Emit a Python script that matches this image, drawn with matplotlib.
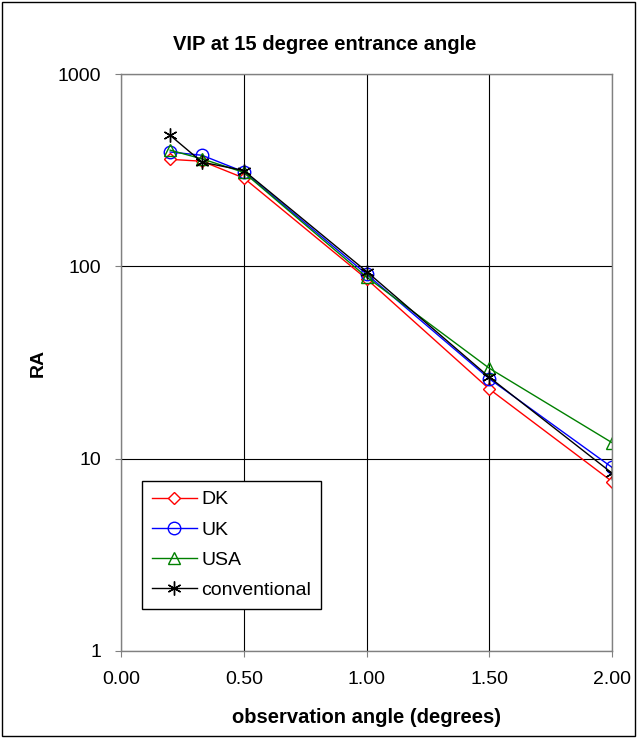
import matplotlib.pyplot as plt
from matplotlib.patches import Rectangle

plt.rcParams['font.family'] = ['Liberation Sans', 'DejaVu Sans']

# observation angles (degrees)
angle = [0.2, 0.33, 0.5, 1.0, 1.5, 2.0]

# RA values
dk = [360, 352, 288, 86, 23, 7.6]
uk = [393, 378, 310, 91, 26, 9.0]
usa = [402, 362, 308, 88, 29.5, 12.1]
conventional = [480, 348, 315, 94, 26.5, 8.4]

xticks = [0.0, 0.5, 1.0, 1.5, 2.0]
yticks = [1, 10, 100, 1000]

fig = plt.figure(figsize=(6.37, 7.38), dpi=100)
ax = fig.add_axes([0.19, 0.1179, 0.771, 0.7818])

ax.plot(angle, dk, color='red', lw=1, marker='D', ms=6.5, mfc='white', mec='red', mew=1, label='DK')
ax.plot(angle, uk, color='blue', lw=1, marker='o', ms=9, mfc='none', mec='blue', mew=1, label='UK')
ax.plot(angle, usa, color='green', lw=1, marker='^', ms=9, mfc='none', mec='green', mew=1, label='USA')
ax.plot(angle, conventional, color='black', lw=1, marker=(6, 2, 0), ms=10, mec='black', mew=1,
        label='conventional')

ax.set_yscale('log')
ax.set_xlim(0, 2)
ax.set_ylim(1, 1000)
ax.set_xticks(xticks)
ax.set_xticklabels(['%.2f' % t for t in xticks])
ax.set_yticks(yticks)
ax.set_yticklabels([str(t) for t in yticks])
ax.minorticks_off()
ax.tick_params(labelsize=14, direction='out', length=4.5, color='gray')
ax.tick_params(axis='x', pad=10)
ax.tick_params(axis='y', pad=10)
ax.grid(True, color='black', lw=0.8)
for s in ax.spines.values():
    s.set_color('gray')
    s.set_linewidth(1)

fig.text(0.509, 0.94, 'VIP at 15 degree entrance angle', fontsize=14.5, fontweight='bold',
         ha='center', va='center')
ax.set_xlabel('observation angle (degrees)', fontsize=14.5, fontweight='bold', labelpad=14)
ax.set_ylabel('RA', fontsize=14, fontweight='bold', labelpad=8)

leg = ax.legend(loc='lower left', bbox_to_anchor=(0.043, 0.073), fontsize=14, fancybox=False,
                framealpha=1, edgecolor='black', borderaxespad=0, handlelength=2.3,
                labelspacing=0.65, borderpad=0.5, handletextpad=0.25)
leg.get_frame().set_linewidth(1)

fig.patches.append(Rectangle((0.003, 0.003), 0.994, 0.994, transform=fig.transFigure,
                             fill=False, edgecolor='black', lw=1))

fig.savefig('out.png', dpi=100)
